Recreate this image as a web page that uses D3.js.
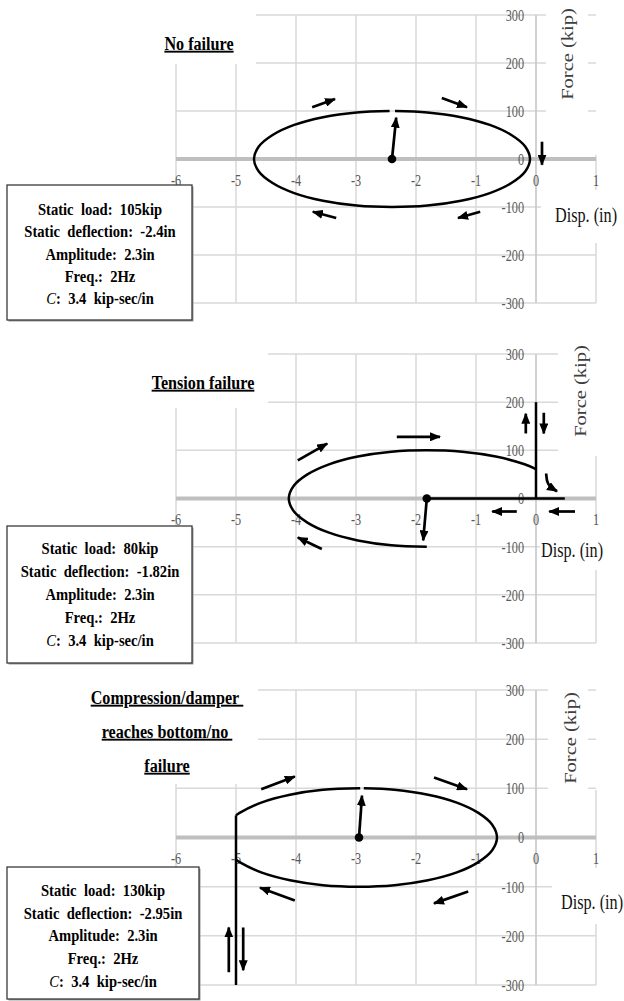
<!DOCTYPE html>
<html>
<head>
<meta charset="utf-8" />
<title>Damper force-displacement loops</title>
<style>
    body {
        margin: 0;
        background-color: #ffffff;
    }
    svg text {
        font-family: "Liberation Serif", "Times New Roman", serif;
        white-space: pre;
    }
</style>
</head>
<body>
<svg id="chart" width="624" height="1001"></svg>
<script src="https://cdn.jsdelivr.net/npm/d3@7"></script>
<script>
    // axis ticks (shared by all three panels)
    var xTicks = [-6, -5, -4, -3, -2, -1, 0, 1];
    var yTicks = [-300, -200, -100, 0, 100, 200, 300];

    // panel 1: no failure
    var p1Title = ["No failure"];
    var p1Info = ["Static  load:  105kip", "Static  deflection:  -2.4in", "Amplitude:  2.3in", "Freq.:  2Hz", "C:  3.4  kip-sec/in"];
    var p1Curves = [
        [[-2.35, 100], [-1.81, 97], [-1.25, 87], [-0.77, 71], [-0.41, 50], [-0.18, 26], [-0.10, 0],
         [-0.18, -26], [-0.41, -50], [-0.77, -71], [-1.25, -87], [-1.81, -97], [-2.40, -100],
         [-2.99, -97], [-3.55, -87], [-4.03, -71], [-4.39, -50], [-4.62, -26], [-4.70, 0],
         [-4.62, 26], [-4.39, 50], [-4.03, 71], [-3.55, 87], [-2.99, 97], [-2.44, 100]]
    ];
    var p1Lines = [];
    var p1Dot = [-2.4, 0];
    var p1Arrows = [
        [-2.4, 0, -2.33, 86],
        [-3.73, 108, -3.35, 125],
        [-1.57, 127, -1.15, 108],
        [0.1, 36, 0.1, -12],
        [-0.93, -110, -1.3, -123],
        [-3.33, -123, -3.72, -110]
    ];
    var p1Hooks = [];

    // panel 2: tension failure
    var p2Title = ["Tension failure"];
    var p2Info = ["Static  load:  80kip", "Static  deflection:  -1.82in", "Amplitude:  2.3in", "Freq.:  2Hz", "C:  3.4  kip-sec/in"];
    var p2Curves = [
        [[-1.82, -100], [-2.41, -97], [-2.97, -87], [-3.45, -71], [-3.81, -50], [-4.04, -26], [-4.12, 0],
         [-4.04, 26], [-3.81, 50], [-3.45, 71], [-2.97, 87], [-2.41, 97], [-1.82, 100],
         [-1.23, 97], [-0.67, 87], [-0.19, 71], [0, 61]]
    ];
    var p2Lines = [
        [[-1.82, 0], [0.48, 0]],
        [[0, 0], [0, 200]]
    ];
    var p2Dot = [-1.82, 0];
    var p2Arrows = [
        [-1.82, 0, -1.88, -87],
        [-3.97, 79, -3.48, 114],
        [-2.32, 128, -1.6, 128],
        [-3.57, -105, -3.97, -81],
        [-0.17, 135, -0.17, 176],
        [0.13, 178, 0.13, 135],
        [-0.32, -27, -0.73, -27],
        [0.65, -27, 0.22, -27]
    ];
    var p2Hooks = [
        [[0.17, 52], [0.18, 28], [0.35, 15]]
    ];

    // panel 3: compression, damper reaches bottom
    var p3Title = ["Compression/damper\u00a0", "reaches bottom/no\u00a0", "failure"];
    var p3Info = ["Static  load:  130kip", "Static  deflection:  -2.95in", "Amplitude:  2.3in", "Freq.:  2Hz", "C:  3.4  kip-sec/in"];
    var p3Curves = [
        [[-5.00, 45], [-4.94, 50], [-4.58, 71], [-4.10, 87], [-3.55, 97], [-2.93, 100]],
        [[-2.87, 100], [-2.36, 97], [-1.80, 87], [-1.32, 71], [-0.96, 50], [-0.73, 26], [-0.65, 0],
         [-0.73, -26], [-0.96, -50], [-1.32, -71], [-1.80, -87], [-2.36, -97], [-2.95, -100],
         [-3.55, -97], [-4.10, -87], [-4.58, -71], [-4.94, -50], [-5.00, -45]]
    ];
    var p3Lines = [
        [[-5, -300], [-5, 45]]
    ];
    var p3Dot = [-2.95, 0];
    var p3Arrows = [
        [-2.95, 0, -2.9, 85],
        [-4.58, 98, -4.02, 124],
        [-1.7, 122, -1.15, 98],
        [-1.13, -110, -1.7, -134],
        [-4.02, -128, -4.6, -102],
        [-5.12, -274, -5.12, -183],
        [-4.88, -183, -4.88, -270]
    ];
    var p3Hooks = [];

    // layout of each panel
    var panels = [{
        title: p1Title, info: p1Info, curves: p1Curves, lines: p1Lines, dot: p1Dot, arrows: p1Arrows, hooks: p1Hooks,
        yRange: [303, 15],
        titlePos: [199, 43], titleStep: 34,
        box: [7, 185, 185, 135], infoPos: [100, 209], infoStep: 22.3,
        force: [567, 54], disp: [586, 215],
        masks: [[140, 0, 116, 64], [546, 0, 42, 152], [541, 190, 83, 53]],
        vmask: [591, 0, 9, 155]
    }, {
        title: p2Title, info: p2Info, curves: p2Curves, lines: p2Lines, dot: p2Dot, arrows: p2Arrows, hooks: p2Hooks,
        yRange: [643, 354],
        titlePos: [203, 382], titleStep: 34,
        box: [7, 526, 185, 137], infoPos: [100, 548], infoStep: 23,
        force: [580, 391], disp: [572, 550],
        masks: [[140, 330, 128, 78], [558, 330, 66, 126], [540, 520, 84, 50]],
        vmask: null
    }, {
        title: p3Title, info: p3Info, curves: p3Curves, lines: p3Lines, dot: p3Dot, arrows: p3Arrows, hooks: p3Hooks,
        yRange: [985, 690],
        titlePos: [167, 697], titleStep: 34,
        box: [7, 867, 192, 132], infoPos: [103, 890], infoStep: 22.7,
        force: [570, 738], disp: [592, 902],
        masks: [[80, 670, 178, 114], [548, 670, 40, 120], [552, 868, 72, 56]],
        vmask: [591, 670, 9, 120]
    }];

    var svg = d3.select("#chart");

    svg.append("rect")
        .attr("width", 624)
        .attr("height", 1001)
        .attr("fill", "#ffffff");

    // arrow head
    svg.append("defs").append("marker")
        .attr("id", "head")
        .attr("markerUnits", "userSpaceOnUse")
        .attr("viewBox", "0 0 11 9")
        .attr("refX", 10)
        .attr("refY", 4.5)
        .attr("markerWidth", 11)
        .attr("markerHeight", 9)
        .attr("orient", "auto")
        .append("path")
        .attr("d", "M0,0 L11,4.5 L0,9 z")
        .attr("fill", "#000");

    var gridColor = "#d9d9d9";

    panels.forEach(function(p) {
        var x = d3.scaleLinear().domain([-6, 1]).range([176, 596]);
        var y = d3.scaleLinear().domain([-300, 300]).range(p.yRange);
        var g = svg.append("g");

        // vertical grid lines
        g.selectAll(".vgrid")
            .data(xTicks.filter(function(d) { return d !== 0; }))
            .enter().append("line")
            .attr("x1", function(d) { return x(d); })
            .attr("x2", function(d) { return x(d); })
            .attr("y1", y(300))
            .attr("y2", y(-300))
            .attr("stroke", gridColor)
            .attr("stroke-width", 1.5);

        if (p.vmask) {
            g.append("rect")
                .attr("x", p.vmask[0]).attr("y", p.vmask[1])
                .attr("width", p.vmask[2]).attr("height", p.vmask[3])
                .attr("fill", "#fff");
        }

        // horizontal grid lines
        g.selectAll(".hgrid")
            .data(yTicks.filter(function(d) { return d !== 0; }))
            .enter().append("line")
            .attr("x1", x(-6))
            .attr("x2", x(1))
            .attr("y1", function(d) { return y(d); })
            .attr("y2", function(d) { return y(d); })
            .attr("stroke", gridColor)
            .attr("stroke-width", 1.5);

        // y axis
        g.append("line")
            .attr("x1", x(0)).attr("x2", x(0))
            .attr("y1", y(300)).attr("y2", y(-300))
            .attr("stroke", "#cccccc")
            .attr("stroke-width", 1.8);

        // x axis
        g.append("line")
            .attr("x1", x(-6)).attr("x2", x(1))
            .attr("y1", y(0)).attr("y2", y(0))
            .attr("stroke", "#bfbfbf")
            .attr("stroke-width", 4);

        // white text boxes over the grid
        g.selectAll(".mask")
            .data(p.masks)
            .enter().append("rect")
            .attr("x", function(d) { return d[0]; })
            .attr("y", function(d) { return d[1]; })
            .attr("width", function(d) { return d[2]; })
            .attr("height", function(d) { return d[3]; })
            .attr("fill", "#fff");

        // tick labels
        g.selectAll(".xlab")
            .data(xTicks)
            .enter().append("text")
            .attr("transform", function(d) { return "translate(" + x(d) + "," + (y(0) + 21) + ") scale(0.72,1)"; })
            .attr("text-anchor", "middle")
            .attr("dy", "0.35em")
            .attr("font-size", "17px")
            .attr("fill", "#595959")
            .text(function(d) { return d; });

        g.selectAll(".ylab")
            .data(yTicks)
            .enter().append("text")
            .attr("transform", function(d) { return "translate(" + 524 + "," + y(d) + ") scale(0.72,1)"; })
            .attr("text-anchor", "end")
            .attr("dy", "0.35em")
            .attr("font-size", "17px")
            .attr("fill", "#595959")
            .text(function(d) { return d; });

        // axis titles
        g.append("text")
            .attr("transform", "translate(" + p.force[0] + "," + p.force[1] + ") scale(0.8,1) rotate(-90)")
            .attr("text-anchor", "middle")
            .attr("dy", "0.35em")
            .attr("font-size", "20.5px")
            .attr("fill", "#404040")
            .text("Force (kip)");

        g.append("text")
            .attr("transform", "translate(" + p.disp[0] + "," + p.disp[1] + ") scale(0.81,1)")
            .attr("text-anchor", "middle")
            .attr("dy", "0.35em")
            .attr("font-size", "20px")
            .attr("fill", "#111")
            .text("Disp. (in)");

        // panel title
        g.selectAll(".title")
            .data(p.title)
            .enter().append("text")
            .attr("transform", function(d, i) {
                return "translate(" + p.titlePos[0] + "," + (p.titlePos[1] + i * p.titleStep) + ") scale(0.85,1)";
            })
            .attr("text-anchor", "middle")
            .attr("dy", "0.35em")
            .attr("font-size", "19px")
            .attr("font-weight", "bold")
            .attr("text-decoration", "underline")
            .attr("fill", "#000")
            .text(function(d) { return d; });

        // straight segments
        var line = d3.line()
            .x(function(d) { return x(d[0]); })
            .y(function(d) { return y(d[1]); });

        g.selectAll(".seg")
            .data(p.lines)
            .enter().append("path")
            .attr("d", line)
            .attr("fill", "none")
            .attr("stroke", "#000")
            .attr("stroke-width", 2.5);

        // loops
        var curve = d3.line()
            .x(function(d) { return x(d[0]); })
            .y(function(d) { return y(d[1]); })
            .curve(d3.curveCatmullRom.alpha(0.5));

        g.selectAll(".loop")
            .data(p.curves)
            .enter().append("path")
            .attr("d", curve)
            .attr("fill", "none")
            .attr("stroke", "#000")
            .attr("stroke-width", 2.5);

        // direction arrows
        g.selectAll(".arrow")
            .data(p.arrows)
            .enter().append("line")
            .attr("x1", function(d) { return x(d[0]); })
            .attr("y1", function(d) { return y(d[1]); })
            .attr("x2", function(d) { return x(d[2]); })
            .attr("y2", function(d) { return y(d[3]); })
            .attr("stroke", "#000")
            .attr("stroke-width", 2.7)
            .attr("marker-end", "url(#head)");

        var hook = d3.line()
            .x(function(d) { return x(d[0]); })
            .y(function(d) { return y(d[1]); })
            .curve(d3.curveBasis);

        g.selectAll(".hook")
            .data(p.hooks)
            .enter().append("path")
            .attr("d", hook)
            .attr("fill", "none")
            .attr("stroke", "#000")
            .attr("stroke-width", 2.7)
            .attr("marker-end", "url(#head)");

        // static position
        g.append("circle")
            .attr("cx", x(p.dot[0]))
            .attr("cy", y(p.dot[1]))
            .attr("r", 4.3)
            .attr("fill", "#000");

        // info box
        g.append("rect")
            .attr("x", p.box[0] + 1.5)
            .attr("y", p.box[1] + 1.5)
            .attr("width", p.box[2])
            .attr("height", p.box[3])
            .attr("fill", "#9a9a9a");

        g.append("rect")
            .attr("x", p.box[0])
            .attr("y", p.box[1])
            .attr("width", p.box[2])
            .attr("height", p.box[3])
            .attr("fill", "#fff")
            .attr("stroke", "#3a3a3a")
            .attr("stroke-width", 1.3);

        var info = g.selectAll(".info")
            .data(p.info)
            .enter().append("text")
            .attr("transform", function(d, i) {
                return "translate(" + p.infoPos[0] + "," + (p.infoPos[1] + i * p.infoStep) + ") scale(0.86,1)";
            })
            .attr("text-anchor", "middle")
            .attr("dy", "0.35em")
            .attr("font-size", "17px")
            .attr("font-weight", "bold")
            .attr("fill", "#000");

        info.each(function(d) {
            var t = d3.select(this);
            if (d.indexOf("C:") === 0) {
                t.append("tspan").attr("font-style", "italic").attr("font-weight", "normal").text("C");
                t.append("tspan").text(d.slice(1));
            } else {
                t.text(d);
            }
        });
    });
</script>
</body>
</html>
